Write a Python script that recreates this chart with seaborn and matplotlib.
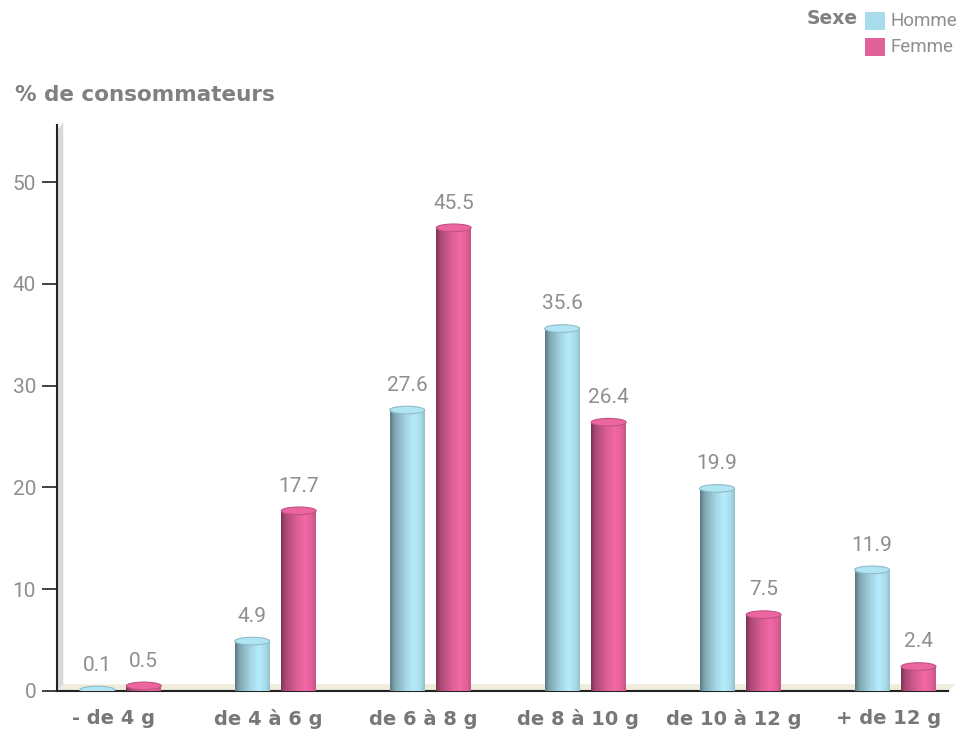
import numpy as np
import pandas as pd
import matplotlib
matplotlib.use("Agg")
import matplotlib.pyplot as plt
import matplotlib.transforms as mtransforms
from matplotlib.patches import Ellipse, Polygon, Rectangle
from matplotlib.colors import to_rgb
import seaborn as sns

# Apport en sel par tranche, % de consommateurs
categories = ["- de 4 g", "de 4 à 6 g", "de 6 à 8 g", "de 8 à 10 g", "de 10 à 12 g", "+ de 12 g"]
homme = [0.1, 4.9, 27.6, 35.6, 19.9, 11.9]
femme = [0.5, 17.7, 45.5, 26.4, 7.5, 2.4]
sexes = ["Homme", "Femme"]
colors = {"Homme": "#a9dceb", "Femme": "#e2619a"}
y_ticks = [0, 10, 20, 30, 40, 50]

df = pd.DataFrame({
    "tranche": categories * 2,
    "pct": homme + femme,
    "sexe": ["Homme"] * len(categories) + ["Femme"] * len(categories),
})

sns.set_theme(style="white")
plt.rcParams["font.family"] = ["DejaVu Sans"]
THIN = dict(family=["Roboto", "DejaVu Sans"], weight="normal")
TXT = "#8e8e8e"

fig = plt.figure(figsize=(9.62, 7.31), dpi=100)
ax = fig.add_axes([57 / 962, 1 - 691 / 731, (948 - 57) / 962, (691 - 125) / 731])

sns.barplot(data=df, x="tranche", y="pct", hue="sexe", hue_order=sexes,
            palette=colors, width=0.6, gap=0.25, legend=False, ax=ax,
            errorbar=None, saturation=1)


def shade(base, t):
    rgb = np.array(to_rgb(base))
    f = np.interp(t, [0.0, 0.12, 0.45, 0.68, 0.88, 1.0], [0.55, 0.75, 0.97, 1.07, 1.0, 0.88])
    out = rgb[None, :] * f[:, None]
    return np.clip(out, 0, 1)


ell_h = 0.75
values = [(s, v) for s, vals in zip(sexes, [homme, femme]) for v in vals]
for patch, (sx, val) in zip(ax.patches, values):
    x, w = patch.get_x(), patch.get_width()
    h = patch.get_height()
    base = colors[sx]
    img = shade(base, np.linspace(0, 1, 64))[None, :, :]
    patch.set_visible(False)
    ax.imshow(img, extent=(x, x + w, 0, h), aspect="auto", zorder=3, interpolation="bilinear")
    # rounded base and top of the cylinder
    ax.add_patch(Ellipse((x + w / 2, 0), w, ell_h, facecolor=shade(base, np.array([0.5]))[0],
                         edgecolor="none", zorder=2.9))
    top_col = np.clip(np.array(to_rgb(base)) * 1.04, 0, 1)
    ax.add_patch(Ellipse((x + w / 2, h), w, ell_h, facecolor=top_col,
                         edgecolor=np.array(to_rgb(base)) * 0.85, lw=0.8, zorder=4))
    ax.annotate(f"{val:.1f}", (x + w / 2, h), xytext=(0, 11), textcoords="offset points",
                ha="center", va="bottom", fontsize=15, color=TXT, zorder=5, **THIN)

ax.set_xlim(-0.41, 5.34)
ax.set_ylim(0, 55.6)

# 3D wall and floor
wall = Polygon([[0, 0], [0.007, 0.008], [0.007, 1.005], [0, 0.99]], closed=True,
               transform=ax.transAxes, facecolor="#d9d9d9", edgecolor="none", zorder=1, clip_on=False)
ax.add_patch(wall)
floor = Polygon([[0, 0], [1.0, 0], [1.008, 0.012], [0.007, 0.012]], closed=True,
                transform=ax.transAxes, facecolor="#efecdc", edgecolor="none", zorder=1, clip_on=False)
ax.add_patch(floor)

for side in ["top", "right"]:
    ax.spines[side].set_visible(False)
for side in ["left", "bottom"]:
    ax.spines[side].set_color("#222222")
    ax.spines[side].set_linewidth(1.5)

ax.set_yticks(y_ticks)
ax.tick_params(axis="y", left=True, length=11, width=1.2, color="#222222", pad=4)
for lab in ax.get_yticklabels():
    lab.set_fontfamily(THIN["family"])
    lab.set_fontweight(THIN["weight"])
    lab.set_fontsize(15)
    lab.set_color(TXT)

ax.tick_params(axis="x", bottom=False, labelsize=14, labelcolor="#777777", pad=7)
shift = mtransforms.ScaledTranslation(-7 / 100, 0, fig.dpi_scale_trans)
for lab in ax.get_xticklabels():
    lab.set_fontweight("bold")
    lab.set_transform(lab.get_transform() + shift)
ax.set_xlabel("")
ax.set_ylabel("")
ax.grid(False)

fig.text(15 / 962, 1 - 95 / 731, "% de consommateurs", fontsize=15.5, fontweight="bold",
         color="#808080", ha="left", va="center")

# legend
fig.text(858 / 962, 1 - 19 / 731, "Sexe", fontsize=13.5, fontweight="bold", color="#808080",
         ha="right", va="center")
for i, s in enumerate(sexes):
    yc = 21 + 26 * i
    fig.patches.append(Rectangle((865 / 962, 1 - (yc + 9) / 731), 20 / 962, 18 / 731,
                                 transform=fig.transFigure, facecolor=colors[s], edgecolor="none"))
    fig.text(891 / 962, 1 - yc / 731, s, fontsize=13.5, color=TXT, ha="left", va="center",
             **THIN)

fig.savefig("out.png", dpi=100)
